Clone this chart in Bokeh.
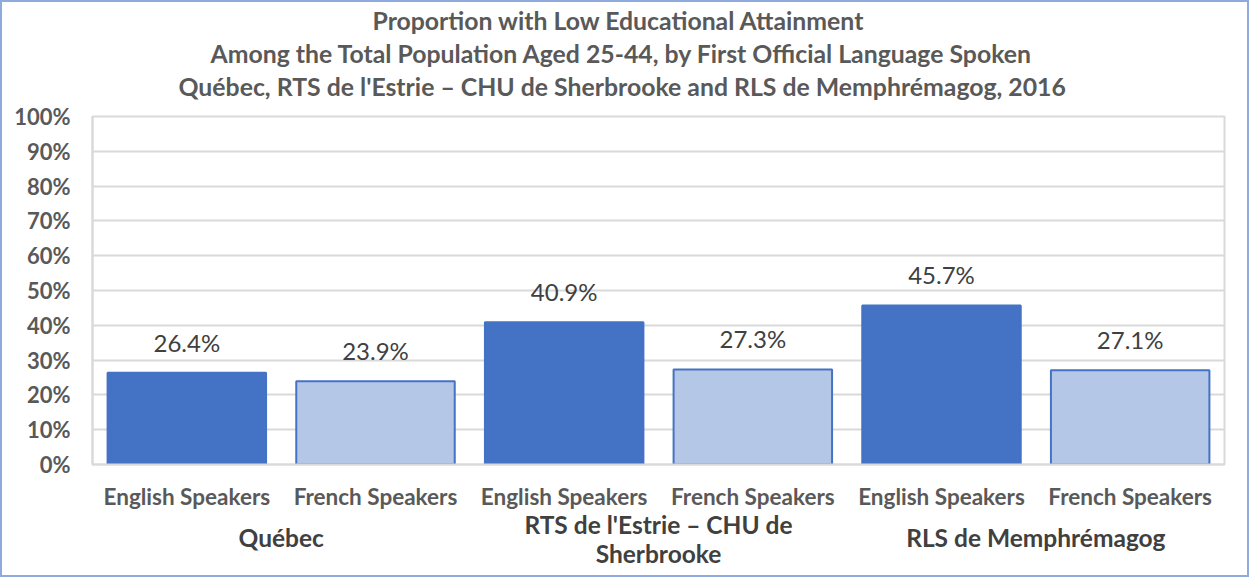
from bokeh.plotting import figure
from bokeh.models import Range1d, FixedTicker, PrintfTickFormatter, ColumnDataSource, LabelSet, LinearAxis, Title
from bokeh.core.properties import value
from bokeh.embed import file_html
from bokeh.resources import INLINE

# ---- data ----
regions = ["Québec", "RTS de l'Estrie – CHU de Sherbrooke", "RLS de Memphrémagog"]
languages = ["English Speakers", "French Speakers"]
english = [26.4, 40.9, 45.7]
french = [23.9, 27.3, 27.1]
y_ticks = [0, 10, 20, 30, 40, 50, 60, 70, 80, 90, 100]
title_lines = [
    "Proportion with Low Educational Attainment",
    "Among the Total Population Aged 25-44, by First Official Language Spoken",
    "Québec, RTS de l'Estrie – CHU de Sherbrooke and RLS de Memphrémagog, 2016",
]

FONT = "Lato"
ENG_COLOR = "#4472C4"
FR_COLOR = "#B4C7E7"

xs, vals, fills, labels = [], [], [], []
for i, r in enumerate(regions):
    for j, v in enumerate([english[i], french[i]]):
        xs.append(2 * i + j)
        vals.append(v)
        fills.append(ENG_COLOR if j == 0 else FR_COLOR)
        labels.append(f"{v:.1f}%")
src = ColumnDataSource(dict(x=xs, top=vals, fill=fills, label=labels))
group_centers = [2 * i + 0.5 for i in range(len(regions))]

p = figure(width=1249, height=577, output_backend="svg", toolbar_location=None,
           x_range=Range1d(-0.5, 2 * len(regions) - 0.5), y_range=Range1d(0, 100),
           min_border_left=90, min_border_right=27, min_border_top=0, min_border_bottom=115,
           styles={"border": "2px solid #8FAADC"})
p.title.visible = False
p.background_fill_color = "white"
p.border_fill_color = "white"
p.outline_line_color = "#D9D9D9"
p.outline_line_width = 2

p.vbar(x="x", top="top", width=0.84, bottom=0, source=src, fill_color="fill",
       line_color=ENG_COLOR, line_width=2)

p.add_layout(LabelSet(x="x", y="top", text="label", source=src, y_offset=16,
                      text_align="center", text_baseline="bottom",
                      text_font=value(FONT), text_font_size="24px", text_color="#404040"))

# axes
p.yaxis.ticker = FixedTicker(ticks=y_ticks)
p.yaxis.formatter = PrintfTickFormatter(format="%d%%")
p.yaxis.major_tick_line_color = None
p.yaxis.minor_tick_line_color = None
p.yaxis.major_tick_out = 0
p.yaxis.minor_tick_out = 0
p.yaxis.axis_line_color = "#D9D9D9"
p.yaxis.axis_line_width = 2
p.yaxis.major_label_text_font = FONT
p.yaxis.major_label_text_font_size = "22px"
p.yaxis.major_label_text_font_style = "bold"
p.yaxis.major_label_text_color = "#595959"
p.yaxis.major_label_standoff = 22

p.xaxis.ticker = FixedTicker(ticks=xs)
p.xaxis.major_label_overrides = {x: languages[x % 2] for x in xs}
p.xaxis.major_tick_line_color = None
p.xaxis.minor_tick_line_color = None
p.xaxis.major_tick_out = 0
p.xaxis.minor_tick_out = 0
p.xaxis.axis_line_color = "#D9D9D9"
p.xaxis.axis_line_width = 2
p.xaxis.major_label_text_font = FONT
p.xaxis.major_label_text_font_size = "22.5px"
p.xaxis.major_label_text_font_style = "bold"
p.xaxis.major_label_text_color = "#595959"
p.xaxis.major_label_standoff = 18

p.xgrid.grid_line_color = None
p.ygrid.grid_line_color = "#D9D9D9"
p.ygrid.grid_line_width = 2

# group label rows: the long middle label wraps onto two lines, the others sit between them
mid = regions[1]
cut = mid.rfind(" ", 0, len(mid) - len("Sherbrooke"))
rows = [
    {group_centers[1]: mid[:cut]},
    {group_centers[0]: regions[0], group_centers[2]: regions[2]},
    {group_centers[1]: mid[cut + 1:]},
]
row_standoffs = [-3, -19, -16]
for row, so in zip(rows, row_standoffs):
    ax = LinearAxis(ticker=FixedTicker(ticks=list(row.keys())),
                    major_label_overrides=row,
                    axis_line_color=None, major_tick_line_color=None, minor_tick_line_color=None,
                    major_tick_out=0, minor_tick_out=0, major_tick_in=0, minor_tick_in=0,
                    major_label_standoff=so,
                    major_label_text_font=FONT, major_label_text_font_size="24.5px",
                    major_label_text_font_style="bold", major_label_text_color="#404040")
    p.add_layout(ax, "below")

# title lines (added bottom-up: later titles sit further from the plot)
p.add_layout(Title(text=" ", text_font_size="1px", standoff=12), "above")  # gap above plot
title_offsets = [280, 118, 86]
for t, off in reversed(list(zip(title_lines, title_offsets))):
    p.add_layout(Title(text=t, align="left", offset=off, text_font=FONT, text_font_size="24.8px",
                       text_font_style="bold", text_color="#595959", standoff=2), "above")

open("out.html", "w").write(file_html(p, INLINE))
